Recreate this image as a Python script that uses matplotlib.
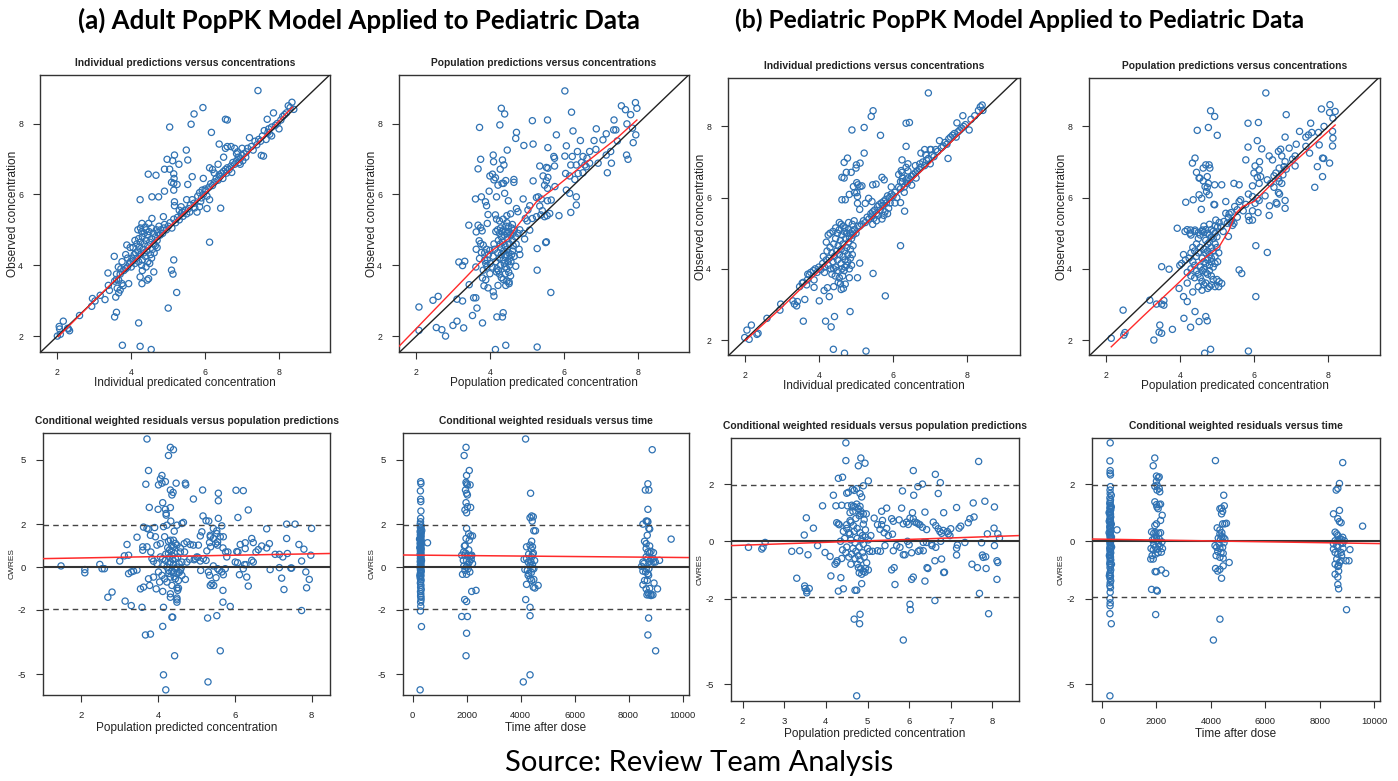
import numpy as np
import matplotlib
matplotlib.use('Agg')
import matplotlib.pyplot as plt

# ---------------- data ----------------
conc_ticks = [2, 4, 6, 8]
cwres_ticks = [-5, -2, 0, 2, 5]
time_ticks = [0, 2000, 4000, 6000, 8000, 10000]
cwres_ref = [-1.96, 1.96]

# (a) adult model: individual predictions vs observed
a_ipred_obs = [
    (7.43,8.93),(5.94,8.45),(5.70,8.27),(5.62,7.98),(5.04,7.90),(6.17,7.75),(6.55,8.12),(6.60,8.10),(6.38,7.42),
    (5.49,7.25),(5.17,7.11),(4.97,6.99),(5.12,6.95),(5.53,6.97),(5.29,6.85),(4.90,6.71),(5.04,6.71),(4.46,6.57),
    (4.67,6.54),(5.15,6.58),(5.16,6.45),(5.65,6.50),(5.15,6.31),(5.09,6.34),(5.24,6.28),(5.53,6.28),(5.15,6.12),
    (4.90,6.09),(4.56,5.93),(4.74,5.93),(4.24,5.85),(5.17,5.79),(5.17,5.68),(6.42,5.61),(6.12,4.65),(5.15,4.15),
    (5.09,3.86),(5.13,3.75),(5.23,3.23),(5.00,2.79),(4.20,2.37),(3.76,1.74),(4.24,1.71),(4.54,1.62),(3.55,2.54),
    (3.60,2.67),(3.54,4.25),(3.37,3.78),(3.41,3.29),(3.66,3.22),(3.58,3.10),(3.29,3.03),
    (2.00,2.00),(2.05,2.27),(2.16,2.42),(2.08,2.05),(2.06,2.20),(2.30,2.20),(2.33,2.15),(2.28,2.22),(2.60,2.58),
    (2.95,3.06),(3.02,2.99),(2.93,2.84),(3.16,3.15),(3.38,3.43),(3.66,3.58),(3.75,3.48),(3.93,3.48),(3.88,4.57),
    (3.97,4.50),(4.29,5.18),(4.38,5.08),(4.47,5.18),(4.56,5.32),(4.87,5.37),(4.24,3.67),(4.29,3.48),(4.43,3.58),
    (4.47,3.62),(4.61,3.81),
    (3.55,3.55),(3.60,3.60),(3.62,3.35),(3.70,3.75),(3.72,3.90),(3.80,3.85),(3.78,3.42),(3.85,3.90),(3.90,3.95),
    (3.95,4.05),(3.98,4.10),(4.00,3.95),(4.02,4.20),(4.05,4.12),(4.08,4.30),(4.10,4.05),(4.12,4.35),(4.15,4.20),
    (4.18,4.40),(4.20,4.10),(4.22,4.52),(4.25,4.30),(4.25,4.65),(4.28,4.00),(4.30,4.80),(4.32,4.45),(4.35,4.60),
    (4.35,4.90),(4.38,4.25),(4.40,4.70),(4.40,5.00),(4.42,4.40),(4.45,4.55),(4.45,4.85),(4.48,4.95),(4.50,4.65),
    (4.52,4.30),(4.55,4.75),(4.55,5.05),(4.60,4.90),(4.62,4.60),(4.65,4.80),(4.68,5.00),(4.70,4.70),(4.72,4.92),
    (4.75,5.10),(4.78,4.85),(4.80,5.00),(4.85,4.90),(4.88,5.05),(4.90,5.15),(4.95,5.00),(5.00,5.10),(5.05,5.20),
    (5.10,5.05),(5.15,5.30),(5.20,5.20),(5.25,5.35),(5.30,5.28),(5.35,5.45),(5.38,5.50),(5.40,5.38),(5.45,5.55),
    (5.50,5.45),(5.55,5.60),(5.58,5.50),(5.60,5.70),(4.30,4.15),(4.35,4.35),(4.15,4.60),(4.05,4.50),(4.10,4.70),
    (4.20,4.75),(4.28,4.95),(4.18,5.00),(4.25,5.05),(4.30,3.85),(4.40,3.95),(4.45,4.10),(4.50,4.05),(4.55,4.20),
    (4.58,4.45),(4.62,4.35),(4.65,4.55),(4.70,4.50),(3.60,3.75),(3.65,3.95),(3.85,4.30),(3.90,4.20),(3.75,4.10),
    (3.70,3.30),(5.50,5.85),(5.30,5.55),(5.35,5.65),
    (5.65,5.85),(5.70,5.75),(5.72,5.62),(5.78,5.50),(5.80,5.95),(5.85,6.05),(5.88,5.80),(5.90,5.90),(5.92,6.12),
    (5.95,6.00),(6.00,6.15),(6.02,6.10),(6.05,5.95),(6.10,6.20),(6.12,5.85),(6.15,6.30),(6.20,6.25),(6.25,6.35),
    (6.30,6.45),(6.35,6.40),(6.38,6.55),(6.40,6.50),(6.45,6.60),(6.48,6.45),(6.50,6.65),(6.55,6.70),(6.58,6.60),
    (6.60,6.75),(6.65,6.70),(6.70,6.80),(6.72,6.62),(6.75,6.90),(6.80,6.85),(6.85,6.95),(6.88,7.20),(6.90,7.05),
    (6.92,6.90),(6.95,7.00),(7.00,7.10),(7.02,6.95),(7.05,7.15),(7.10,7.05),(7.12,7.20),(7.15,7.30),(7.20,7.60),
    (7.25,7.35),(7.30,7.25),(7.35,7.50),(7.40,7.40),(7.45,7.55),(7.50,7.50),(7.52,7.10),(7.55,7.65),(7.58,7.08),
    (7.60,7.80),(7.65,7.55),(7.70,7.75),(7.72,7.85),(7.75,7.70),(7.80,7.90),(7.85,8.30),(7.90,7.95),(7.95,8.00),
    (8.00,7.85),(8.05,8.10),(8.10,8.20),(8.15,8.25),(8.20,8.30),(8.25,8.50),(8.30,8.45),(8.35,8.60),(8.40,8.40),
    (6.60,7.35),(6.50,7.05),(6.35,6.85),(6.55,7.30),(6.80,7.30),(6.70,7.35),(6.85,7.15),(7.00,7.30),(6.95,6.85),
    (5.95,6.45),(6.12,6.75),(6.20,6.70),(6.25,6.60),(5.85,5.65),(6.05,5.60),(7.68,8.12),(7.80,7.65),
]
a_ipred_smooth_x = [2.03, 3.0, 4.0, 5.0, 6.0, 7.0, 8.36]
a_ipred_smooth_y = [1.99, 3.0, 4.03, 5.06, 6.03, 6.99, 8.46]

# (a) adult model: population predictions vs observed
a_pred_obs = [
    (6.02,8.92),(4.30,8.43),(4.39,8.27),(6.20,8.32),(7.55,8.50),(7.66,8.39),(7.93,8.59),(7.97,8.43),(7.80,8.25),
    (5.14,8.08),(5.55,8.10),(4.26,7.96),(3.71,7.89),(4.71,7.75),(4.69,7.58),(6.24,7.79),(6.87,7.85),(7.35,8.10),
    (7.34,7.82),(7.40,7.82),(7.70,7.99),(7.85,7.87),(5.79,7.68),(7.14,7.71),(7.94,7.68),(6.44,7.52),(6.81,7.52),
    (7.05,7.54),(7.44,7.51),(7.87,7.46),(4.91,7.38),(5.16,7.42),(5.56,7.32),(6.06,7.37),(6.36,7.21),(6.69,7.21),
    (6.86,7.27),(4.46,7.25),(4.08,7.11),(7.14,7.11),(7.26,7.21),(7.69,7.11),(7.73,6.99),(3.74,6.99),(4.33,6.97),
    (4.09,6.92),(5.72,7.07),(5.74,7.02),(6.02,7.08),(6.22,7.07),(6.51,7.07),(6.62,7.02),(7.28,6.88),(6.92,6.88),
    (3.67,6.72),(4.37,6.83),(4.27,6.71),(5.34,6.80),(5.52,6.76),(5.56,6.74),(5.74,6.80),(6.18,6.83),(6.33,6.83),
    (6.47,6.90),(6.56,6.83),(6.69,6.88),(7.17,6.61),(3.99,6.52),(4.06,6.57),(4.10,6.41),(4.14,6.47),(4.21,6.26),
    (4.32,6.31),(4.36,6.31),(4.42,6.39),(4.64,6.42),(4.64,6.34),(5.16,6.38),(5.43,6.52),(5.52,6.38),(5.56,6.48),
    (6.04,6.59),(6.15,6.52),(6.38,6.59),(6.51,6.61),(6.60,6.78),(6.29,6.42),(5.47,6.26),(5.55,6.17),(5.75,6.22),
    (6.06,6.12),(6.15,6.03),(6.33,5.93),(6.33,5.70),(6.18,5.49),(5.86,5.40),(3.97,6.09),(4.17,5.93),(4.39,6.03),
    (3.60,5.87),(3.76,5.93),(3.87,5.79),(3.90,5.68),(4.49,5.82),(4.89,5.87),(5.25,5.91),(5.30,5.93),(5.38,5.87),
    (5.55,5.82),(5.65,5.84),(4.71,5.60),(4.75,5.51),(5.07,5.68),(5.02,5.56),(5.34,5.67),(5.41,5.54),(5.37,5.42),
    (5.54,5.40),(5.47,5.37),(5.61,5.46),(3.94,5.43),(4.14,5.42),(4.17,5.30),(5.25,5.37),(4.95,5.32),(5.00,5.25),
    (5.14,5.32),(3.42,5.13),(3.67,5.13),(3.74,5.06),(3.92,5.18),(3.78,4.97),(4.93,4.74),(5.07,4.99),(4.89,4.90),
    (5.52,4.66),(5.27,4.47),(3.62,4.94),(3.70,4.69),(3.74,4.61),(3.81,4.57),(3.62,4.45),(3.99,4.42),(3.76,4.36),
    (3.71,4.19),(3.85,4.14),(3.15,4.09),(3.25,3.99),(3.31,4.11),(3.61,3.95),(3.81,3.86),(3.91,3.95),(3.99,3.76),
    (4.17,3.81),(3.79,3.64),(3.88,3.59),(3.83,3.42),(3.94,3.36),(4.08,3.25),(4.10,3.13),(4.21,3.43),(3.43,3.45),
    (3.55,3.08),(3.61,3.08),(3.10,3.04),(3.25,2.99),(2.45,3.01),(2.59,3.12),(3.64,2.79),(3.52,2.58),(4.18,2.54),
    (4.33,2.54),(4.35,2.66),(3.79,2.37),(3.10,2.42),(2.99,2.30),(3.28,2.23),(2.54,2.24),(2.69,2.18),(2.79,2.00),
    (2.07,2.82),(2.07,2.16),(4.14,1.62),(4.42,1.74),(5.27,1.69),(5.64,3.23),(5.27,3.86),(5.50,4.64),(4.80,4.30),
    (4.69,3.97),(4.51,3.53),(4.51,3.48),(4.42,3.43),
    (4.15,4.95),(4.20,5.00),(4.25,4.90),(4.28,5.05),(4.30,4.80),(4.32,4.95),(4.35,5.00),(4.38,4.85),(4.40,4.95),
    (4.42,5.10),(4.45,4.90),(4.48,4.75),(4.50,4.95),(4.52,4.60),(4.55,4.85),(4.58,5.05),(4.60,4.70),(4.22,4.70),
    (4.27,4.60),(4.30,4.50),(4.33,4.65),(4.36,4.40),(4.40,4.55),(4.43,4.30),(4.46,4.45),(4.50,4.35),(4.53,4.20),
    (4.56,4.10),(4.20,4.35),(4.25,4.20),(4.28,4.00),(4.30,4.30),(4.35,4.15),(4.38,4.05),(4.40,3.95),(4.42,4.25),
    (4.45,3.90),(4.48,4.10),(4.50,3.80),(4.52,4.00),(4.55,3.70),(4.15,4.10),(4.18,3.90),(4.22,3.85),(4.25,3.75),
    (4.30,3.65),(4.35,3.60),(4.40,3.75),(4.45,3.55),(4.12,4.45),(4.10,4.60),(4.08,4.25),(4.05,3.95),(4.00,4.05),
    (3.95,4.30),(3.90,4.45),(3.92,4.15),(3.88,4.05),(3.85,4.35),(4.60,4.40),(4.62,4.55),(4.65,4.25),(4.68,4.80),
    (4.70,4.60),(4.75,4.90),(4.78,4.45),(4.80,5.00),(4.62,4.90),(4.58,4.30),(4.50,5.10),(4.45,5.20),(4.35,5.30),
    (4.25,5.25),(4.60,5.15),(4.55,5.45),(4.45,5.40),(4.65,5.00),
]
a_pred_smooth_x = [1.53, 3.35, 4.0, 4.5, 4.71, 5.25, 5.79, 6.51, 7.42, 7.97]
a_pred_smooth_y = [1.71, 3.67, 4.38, 4.75, 5.08, 5.79, 6.22, 6.83, 7.58, 8.10]

# (b) pediatric model: individual predictions vs observed
b_ipred_obs = [
    (6.95,8.94),(5.46,8.44),(5.41,8.28),(4.89,7.90),(5.22,7.97),(5.66,7.75),(6.35,8.09),(6.44,8.11),(6.35,7.44),
    (5.22,7.25),(4.77,7.11),(4.68,6.99),(5.11,6.97),(5.01,6.92),(5.00,6.83),(6.24,7.06),(6.22,6.76),(6.24,6.71),
    (4.62,6.57),(4.68,6.55),(4.74,6.71),(4.87,6.71),(5.70,6.57),(5.76,6.50),(5.02,6.42),(5.05,6.36),(4.93,6.31),
    (5.11,6.31),(5.16,6.33),(5.45,6.36),(5.54,6.38),(4.96,6.14),(5.02,6.14),(4.82,6.09),(5.04,6.03),(4.62,5.94),
    (4.71,5.94),(5.04,5.84),(5.25,5.84),(5.10,5.67),(5.34,5.98),(5.43,5.89),(6.20,5.86),(6.31,5.62),(6.20,4.65),
    (5.10,4.16),(5.04,3.75),(5.46,3.87),(5.79,3.24),(4.84,2.80),(4.42,2.66),(4.18,2.53),(4.33,2.37),(3.58,2.53),
    (4.39,1.74),(4.69,1.63),(5.27,1.69),(3.62,3.14),(4.01,3.10),(3.34,3.01),(3.40,2.96),(3.42,3.08),(2.95,2.84),
    (2.97,3.01),(2.60,2.61),(2.06,2.28),(2.18,2.42),(2.36,2.19),(2.33,2.16),(2.12,2.02),(2.00,2.07),(3.87,3.48),
    (4.14,3.39),(4.23,3.47),(4.28,3.22),(3.87,3.69),(3.74,3.83),(3.69,3.69),(3.67,3.55),(3.58,3.62),(4.40,3.50),
    (4.52,3.62),(4.58,3.58),(4.60,3.42),(4.66,3.45),(4.71,3.57),(4.82,3.75),(4.44,3.80),(4.64,3.80),
    (3.85,3.95),(3.90,4.00),(3.95,3.90),(4.00,4.05),(4.05,3.98),(4.10,4.15),(4.12,4.35),(4.15,4.05),(4.20,4.25),
    (4.22,4.50),(4.25,4.10),(4.28,4.30),(4.30,4.60),(4.32,4.00),(4.35,4.45),(4.38,4.20),(4.40,4.70),(4.42,4.35),
    (4.45,4.05),(4.45,4.85),(4.48,4.50),(4.50,4.25),(4.50,5.00),(4.52,4.65),(4.55,4.40),(4.55,5.10),(4.58,4.80),
    (4.60,4.15),(4.60,4.55),(4.62,4.95),(4.65,4.35),(4.65,4.70),(4.68,5.05),(4.70,4.25),(4.70,4.50),(4.72,4.85),
    (4.75,4.60),(4.75,5.00),(4.78,4.40),(4.80,4.75),(4.80,5.10),(4.82,4.90),(4.85,4.55),(4.85,5.00),(4.88,4.85),
    (4.90,5.05),(4.92,4.95),(4.95,5.10),(5.00,5.00),(5.05,5.20),(4.30,5.00),(4.38,5.05),(4.25,4.95),(4.20,4.75),
    (4.45,5.15),(4.55,5.30),(4.60,5.25),(4.65,5.20),(4.70,5.15),(4.80,5.30),(4.90,5.25),(4.95,5.35),(4.15,3.90),
    (4.35,3.85),(4.50,3.95),(4.55,3.75),(4.62,4.00),(4.70,4.05),(4.75,4.10),(4.78,4.20),(4.85,4.30),(4.82,4.00),
    (4.90,4.40),(4.92,4.65),(4.68,3.95),(4.88,4.10),(4.40,4.00),(3.70,3.85),(3.78,3.90),(3.55,3.60),(3.48,3.50),
    (3.30,3.10),
    (5.10,5.20),(5.15,5.25),(5.20,5.35),(5.25,5.30),(5.30,5.45),(5.35,5.40),(5.40,5.55),(5.42,5.48),(5.45,5.60),
    (5.48,5.42),(5.50,5.65),(5.55,5.55),(5.58,5.75),(5.60,5.50),(5.62,5.80),(5.65,5.65),(5.68,5.85),(5.70,5.40),
    (5.72,5.78),(5.75,5.90),(5.78,5.60),(5.80,5.95),(5.82,5.85),(5.85,6.05),(5.88,5.70),(5.90,6.00),(5.92,5.85),
    (5.95,6.10),(6.00,6.05),(6.05,6.15),(6.10,6.00),(6.15,6.30),(6.20,6.25),(6.25,6.45),(6.30,6.30),(6.35,6.50),
    (6.38,6.40),(6.40,6.55),(6.45,6.50),(6.50,6.60),(6.55,6.65),(6.60,6.70),(6.62,6.55),(6.65,6.75),(6.70,6.80),
    (6.72,6.95),(6.75,6.85),(6.80,7.00),(6.85,6.90),(6.88,7.20),(6.90,7.05),(6.95,7.10),(7.00,6.95),(7.02,7.35),
    (7.05,7.20),(7.10,7.15),(7.15,7.35),(7.20,7.30),(7.25,7.60),(7.30,7.40),(7.35,7.45),(7.40,7.55),(7.45,7.50),
    (7.48,7.10),(7.50,7.65),(7.55,7.70),(7.60,7.75),(7.65,7.80),(7.70,7.70),(7.72,8.10),(7.75,7.85),(7.80,7.90),
    (7.85,7.95),(7.88,8.30),(7.90,8.00),(7.95,8.05),(8.05,7.90),(8.10,8.20),(8.20,8.30),(8.30,8.45),(8.35,8.55),
    (8.40,8.60),(8.42,8.45),(6.20,6.45),(6.35,6.85),(6.40,6.95),(6.60,6.90),(6.75,7.25),(6.85,7.35),(7.00,7.35),
    (6.50,6.35),(6.30,6.15),(6.05,5.85),(5.85,5.55),(5.75,5.50),(5.55,5.35),(5.45,5.25),(5.95,6.30),(6.15,6.65),
    (6.25,6.55),(6.40,6.75),
]
b_ipred_smooth_x = [2.02, 3.0, 3.62, 4.0, 4.5, 5.0, 6.0, 7.0, 8.42]
b_ipred_smooth_y = [1.99, 2.92, 3.55, 3.93, 4.45, 5.0, 6.0, 6.98, 8.45]

# (b) pediatric model: population predictions vs observed
b_pred_obs = [
    (6.32,8.94),(4.83,8.44),(4.94,8.28),(4.47,7.89),(4.77,7.97),(5.01,7.75),(5.84,8.09),(6.12,8.11),(6.87,8.33),
    (7.53,8.09),(7.82,8.49),(8.05,8.61),(8.04,8.39),(8.19,8.42),(8.13,8.23),(5.84,7.42),(6.21,7.37),(6.09,7.60),
    (6.84,7.70),(6.72,7.36),(6.66,7.30),(6.95,7.39),(7.23,7.86),(7.40,7.70),(7.47,7.76),(7.56,7.83),(7.50,7.25),
    (7.74,7.83),(7.76,7.48),(7.89,8.00),(8.12,7.86),(8.13,7.67),(8.12,7.45),(8.04,6.97),(7.85,7.11),(7.88,7.10),
    (7.71,6.87),(7.85,6.59),(7.64,6.29),(7.14,7.50),(7.40,7.44),(7.11,7.17),(7.11,6.89),(7.04,7.08),(6.84,7.01),
    (6.81,6.87),(6.87,6.80),(6.78,6.64),(6.68,6.83),(6.59,6.69),(6.66,6.55),(6.50,7.06),(6.54,6.61),(6.41,7.17),
    (6.75,7.17),(6.15,7.01),(6.14,6.78),(6.03,6.89),(5.78,7.06),(6.36,6.50),(6.18,6.59),(6.00,6.69),(6.09,6.57),
    (6.14,6.40),(6.45,6.40),(6.54,6.29),(6.68,6.45),(6.75,6.40),(6.66,6.14),(6.69,6.10),(6.84,5.92),(6.60,5.86),
    (6.62,5.82),(6.84,5.70),(6.42,5.77),(6.41,5.50),(6.30,6.05),(5.96,6.33),(5.85,6.10),(5.96,6.03),(6.09,5.98),
    (6.14,5.92),(6.03,5.84),(5.78,5.81),(5.64,5.94),(5.96,5.63),(6.11,5.58),(5.96,5.37),(5.85,5.47),(5.87,5.36),
    (5.71,5.63),(5.48,5.75),(5.55,5.66),(5.60,5.89),(5.46,6.40),(5.60,6.36),(5.24,5.89),(5.13,6.36),(4.94,5.80),
    (4.94,6.36),(5.55,5.45),(5.46,5.28),(5.40,5.35),(5.24,5.56),(5.33,5.54),(5.38,5.58),(5.31,5.45),(5.19,5.33),
    (5.28,5.28),(5.37,5.31),(5.42,5.22),(4.97,5.37),(5.06,5.30),(5.02,5.18),(5.11,5.18),(5.17,5.05),(5.31,4.91),
    (6.05,4.65),(6.36,4.46),(5.60,3.97),(5.67,3.87),(6.05,3.22),(5.13,3.59),(5.06,3.64),(4.63,6.83),(4.70,6.92),
    (4.79,6.92),(4.81,6.83),(4.41,7.11),(4.34,6.97),(4.45,6.71),(4.52,6.55),(4.54,6.55),(4.74,6.59),(4.63,6.47),
    (4.77,6.40),(4.68,6.31),(4.74,6.29),(4.72,6.17),(4.52,6.08),(4.59,5.98),(4.79,6.08),(4.36,5.94),(4.16,5.87),
    (4.58,5.67),(4.92,5.81),(3.93,5.14),(4.14,5.05),(4.29,5.09),(4.27,5.00),(4.41,5.09),(4.50,5.02),(4.61,5.09),
    (4.65,5.02),(3.51,4.06),(3.71,3.99),(3.98,3.45),(4.20,3.08),(4.10,3.22),(3.19,3.12),(3.37,3.01),(3.51,3.01),
    (3.57,2.98),(3.57,3.11),(2.47,2.84),(4.11,2.61),(4.41,2.80),(4.70,2.66),(4.74,2.54),(4.29,2.36),(4.52,2.52),
    (3.46,2.42),(3.51,2.19),(3.44,2.22),(3.80,2.30),(3.30,2.00),(2.15,2.05),(2.49,2.14),(2.52,2.21),(4.67,1.63),
    (4.83,1.74),(5.85,1.69),
    (4.75,5.00),(4.80,4.95),(4.85,4.90),(4.90,5.05),(4.95,5.00),(4.70,4.80),(4.75,4.70),(4.80,4.75),(4.85,4.60),
    (4.90,4.85),(4.95,4.70),(5.00,4.90),(4.65,4.55),(4.70,4.45),(4.75,4.50),(4.80,4.40),(4.85,4.30),(4.90,4.50),
    (4.95,4.35),(4.60,4.30),(4.65,4.20),(4.70,4.15),(4.75,4.25),(4.80,4.10),(4.85,4.20),(4.90,4.05),(4.95,4.15),
    (4.55,4.05),(4.60,3.95),(4.65,4.00),(4.70,3.90),(4.75,3.85),(4.80,3.95),(4.85,3.80),(4.90,3.70),(4.50,3.85),
    (4.55,3.75),(4.60,3.65),(4.65,3.55),(4.70,3.60),(4.75,3.45),(4.80,3.50),(4.85,3.55),(4.45,3.95),(4.40,4.10),
    (4.35,4.20),(4.30,4.00),(4.45,4.35),(4.50,4.45),(4.40,4.50),(4.35,4.60),(4.30,4.45),(4.25,4.30),(4.20,3.90),
    (4.45,4.70),(4.55,4.60),(4.50,4.85),(4.60,5.05),(4.55,4.95),(4.40,5.05),(4.30,4.95),(4.20,5.10),(4.70,5.10),
    (4.80,5.25),(4.65,5.20),(4.85,5.10),(4.95,5.20),(5.00,4.60),(5.05,4.45),(5.02,4.20),(5.00,3.70),(5.05,3.50),
    (4.95,3.50),(4.60,3.40),(4.50,3.50),(4.40,3.75),(4.30,3.80),(4.35,3.35),(4.20,3.60),(4.15,4.25),(4.10,4.40),
    (4.00,4.10),(4.05,4.15),
]
b_pred_smooth_x = [2.15, 3.0, 4.0, 4.5, 5.06, 5.33, 5.51, 5.69, 6.0, 7.0, 8.0, 8.19]
b_pred_smooth_y = [1.81, 2.66, 3.64, 4.16, 4.62, 5.09, 5.56, 5.75, 5.89, 6.92, 7.86, 8.04]

# (a) CWRES vs population predictions
a_cwres_pred = [
    (3.71,5.97),(4.32,5.58),(4.40,5.47),(4.27,5.20),(3.75,4.50),(4.10,4.27),(4.06,4.11),(4.19,3.98),(3.68,3.86),
    (4.01,3.83),(4.10,3.91),(4.47,3.91),(4.71,3.91),(4.72,3.83),(4.32,3.59),(4.39,3.48),(4.36,3.36),(5.16,3.59),
    (5.57,3.44),(5.57,3.09),(6.03,3.58),(6.22,3.56),(4.92,3.17),(4.12,3.00),(3.77,2.78),(4.00,2.69),(4.32,2.77),
    (4.19,2.69),(4.21,2.50),(4.21,2.42),(6.35,2.66),(5.17,2.38),(5.25,2.16),(5.32,2.14),(5.57,2.27),(6.08,2.31),
    (4.33,2.14),(4.62,2.03),(4.66,2.08),(5.66,1.92),(7.35,2.00),(7.57,2.00),(8.00,1.80),(6.83,1.78),(3.62,1.86),
    (3.71,1.80),(3.75,1.77),(3.91,1.84),(3.45,1.39),(3.19,1.05),(3.23,0.55),(3.00,0.28),(3.12,0.52),(2.48,0.12),
    (2.54,-0.08),(2.60,-0.08),(2.09,-0.12),(2.09,-0.27),(1.47,0.05),(2.69,-1.41),(2.80,-1.17),(3.14,-1.59),
    (3.30,-1.80),(3.58,-1.88),(3.23,-0.31),(3.30,-0.23),(3.36,-0.19),(3.45,-0.14),(3.54,-1.02),(3.62,-0.94),
    (3.75,-0.55),(3.88,-0.47),(3.78,-0.86),(3.95,-1.02),(4.12,-1.14),(4.04,-0.70),(4.14,-1.88),(4.12,-2.77),
    (3.67,-3.17),(3.80,-3.13),(4.36,-2.34),(4.38,-2.34),(4.43,-4.14),(4.14,-5.03),(4.20,-5.73),(5.30,-5.36),
    (5.62,-3.91),(5.29,-2.38),(5.53,-2.27),(5.88,-1.84),(5.69,-1.64),(5.69,-1.09),(5.45,-0.86),(6.35,-0.89),
    (6.12,-0.36),(6.31,-0.47),(6.92,-0.12),(7.22,-0.52),(7.28,-1.05),(7.74,-2.03),(7.87,-0.97),(7.94,-0.58),
    (7.85,-0.23),(7.46,-0.05),(7.48,-0.05),(7.16,-0.03),(7.74,0.28),(7.98,0.55),(7.67,1.05),(7.80,0.83),
    (7.35,1.33),(7.25,0.47),(7.37,0.63),(7.05,0.59),(7.16,0.59),(6.83,0.89),(6.90,1.09),(6.70,0.98),(6.44,1.33),
    (6.48,1.14),(6.27,1.13),(6.27,0.86),(6.08,0.70),(6.05,0.72),(6.14,1.05),(6.55,0.70),(6.61,0.81),(6.44,0.31),
    (6.48,0.23),(6.25,0.11),(6.29,0.11),(6.22,-0.08),(6.07,0.20),(6.01,0.23),(5.79,0.47),(5.82,0.70),(5.76,0.70),
    (5.69,0.89),(5.70,1.41),(5.62,1.41),(5.55,1.17),(5.50,1.09),(5.55,1.02),(5.34,1.14),(5.37,0.94),(5.27,0.75),
    (5.36,1.41),(5.44,1.33),(5.53,1.56),(5.44,1.80),(5.53,1.69),(5.14,1.64),(5.36,1.48),(5.10,1.45),(5.05,1.02),
    (4.92,1.02),(4.84,1.05),(4.75,1.17),(4.68,1.09),(4.97,0.39),(4.94,0.34),(5.10,0.28),(5.18,0.39),(5.25,0.31),
    (5.11,-0.16),(5.31,-0.23),(5.34,-0.39),(5.44,0.05),(5.55,-0.08),(5.59,-0.16),(5.66,-0.23),(5.70,-0.36),
    (5.75,-0.08),(5.51,-0.50),(5.40,-0.78),(5.36,-0.86),(5.01,0.47),(5.04,0.45),(4.69,0.70),(4.40,0.94),
    (4.49,1.02),(4.58,0.89),(4.17,1.41),(4.32,1.25),(4.40,1.25),(4.27,1.20),(4.42,1.67),(4.49,1.95),(4.23,1.95),
    (4.14,1.88),(3.80,1.48),(3.93,1.41),(3.71,0.94),(3.81,0.70),(3.60,0.94),(3.60,0.78),(3.97,1.02),(4.06,1.09),
    (3.84,0.39),(3.88,0.27),(3.97,0.16),(4.06,0.47),(4.12,0.39),(4.19,0.31),(4.27,0.63),(4.36,0.55),(4.43,0.63),
    (4.51,0.47),(4.58,0.70),(4.62,0.23),(4.32,0.23),(4.40,0.11),(4.49,0.00),(4.45,-0.08),(4.23,0.00),(4.27,-0.16),
    (4.36,-0.20),(4.40,-0.27),(4.49,-0.31),(4.58,-0.16),(4.62,-0.39),(4.32,-0.47),(4.45,-0.55),(4.53,-0.63),
    (4.23,-0.70),(4.36,-0.86),(4.49,-0.98),(4.51,-1.09),(4.53,-0.98),(4.49,-1.45),(4.49,-1.53),(4.49,-1.64),
    (4.32,-1.41),(4.32,-1.25),(4.17,-0.55),(4.10,-0.39),(4.01,-0.23),(4.71,-0.58),(4.75,0.23),(4.82,0.36),
    (4.30,0.80),(4.35,0.75),(4.25,0.90),(4.38,0.35),(4.45,0.40),(4.30,0.45),(4.28,-0.30),(4.42,-0.45),
    (4.55,-0.25),(4.35,1.00),(4.45,1.10),(4.30,0.15),(4.55,0.15),(4.60,-0.05),(4.20,0.60),(4.15,0.10),
]
a_cwres_pred_fit_x = [1.0, 8.48]
a_cwres_pred_fit_y = [0.39, 0.63]

# (a) CWRES vs time after dose
a_cwres_time = [
    (300,3.98),(310,3.89),(290,3.55),(300,3.16),(305,3.05),(310,2.61),(300,2.27),(295,2.11),(285,2.00),(320,1.92),
    (290,1.85),(310,1.78),(300,1.72),(280,1.65),(320,1.60),(300,1.55),(290,1.50),(315,1.45),(300,1.40),(285,1.35),
    (310,1.30),(295,1.25),(320,1.20),(300,1.15),(280,1.10),(310,1.05),(295,1.00),(305,0.95),(285,0.90),(320,0.85),
    (300,0.80),(290,0.75),(310,0.70),(300,0.65),(280,0.60),(315,0.55),(295,0.50),(305,0.45),(290,0.40),(320,0.35),
    (300,0.30),(285,0.25),(310,0.20),(300,0.15),(290,0.10),(315,0.05),(300,0.00),(285,-0.05),(310,-0.10),
    (295,-0.15),(320,-0.20),(300,-0.25),(290,-0.30),(310,-0.38),(300,-0.45),(285,-0.52),(315,-0.60),(300,-0.68),
    (290,-0.75),(310,-0.85),(300,-0.95),(320,-1.05),(295,-1.15),(305,-1.25),(300,-1.35),(310,-1.41),(315,-1.52),
    (300,-1.64),(305,-1.83),(290,-2.05),(330,-2.78),(280,-5.73),(554,1.13),(330,1.10),(270,0.90),(330,0.30),
    (270,-0.40),(340,1.70),(260,1.30),
    (1980,5.58),(1910,5.20),(2100,4.50),(2000,4.27),(1980,3.95),(2000,3.88),(2030,3.83),(2130,3.83),(1960,3.59),
    (2000,3.44),(2030,3.36),(1980,3.00),(2030,2.81),(2150,2.78),(1940,2.66),(2000,2.53),(2000,1.80),(1980,1.33),
    (2150,1.45),(2220,1.45),(1920,0.98),(2100,1.25),(1820,0.55),(1940,0.55),(2060,0.55),(2130,0.52),(2190,0.55),
    (1880,0.31),(2000,0.31),(2100,0.23),(2220,0.16),(1850,-0.34),(2000,-0.34),(2120,-0.23),(1940,-0.16),
    (2060,-0.08),(1900,0.05),(2050,0.12),(2180,0.50),(1960,0.65),(2080,0.80),(1990,0.00),(1930,-1.52),
    (2000,-1.61),(2190,-1.14),(2350,-1.09),(1820,-2.31),(2030,-2.31),(2000,-3.09),(1980,-4.14),(2080,1.55),
    (1950,1.00),(2170,0.35),(1890,0.70),
    (4185,5.97),(4370,3.44),(4470,2.34),(4350,2.30),(4410,2.38),(4430,2.14),(4490,1.69),(4550,1.69),(4410,1.20),
    (4350,1.02),(4220,0.94),(4440,0.94),(4440,0.59),(4130,0.36),(4220,0.39),(4410,0.47),(4280,0.23),(4350,0.08),
    (4440,0.11),(4160,-0.12),(4250,-0.16),(4440,-0.08),(4490,-0.08),(4280,-0.39),(4350,-0.55),(4410,-0.62),
    (4490,-0.58),(4220,-0.81),(4470,-0.94),(4530,-0.98),(4650,-0.86),(4190,-1.52),(4350,-1.88),(4350,-2.27),
    (4350,-5.03),(4100,-5.36),(4300,0.60),(4380,0.25),(4520,0.30),(4300,-0.30),(4400,-0.25),(4470,0.65),
    (4390,0.85),
    (8874,5.47),(8714,3.88),(8620,3.59),(8750,3.59),(8714,2.69),(8650,2.14),(8690,2.14),(8714,2.11),(8530,2.00),
    (8750,1.80),(8780,1.77),(8590,1.20),(8650,1.09),(8780,0.98),(8690,1.48),(8650,0.86),(8714,0.70),(8780,0.66),
    (8830,0.73),(8920,0.67),(8650,0.47),(8714,0.39),(8830,0.36),(8900,0.39),(8530,0.23),(8560,0.16),(8780,0.27),
    (8830,0.16),(8920,0.23),(8990,0.23),(8480,0.03),(8650,-0.08),(8750,-0.08),(8530,-0.19),(8630,-0.23),
    (8714,-0.31),(8740,-0.39),(8690,-0.63),(8590,-0.63),(8940,-0.75),(8530,-0.83),(8650,-1.02),(8780,-1.00),
    (8714,-1.20),(8830,-1.28),(8750,-1.30),(9070,-1.02),(8830,-1.33),(8680,-1.30),(8900,-1.30),(8740,-2.38),
    (8714,-3.17),(9000,-3.91),(9575,1.30),(9145,0.31),
]
a_cwres_time_fit_x = [-354, 10236]
a_cwres_time_fit_y = [0.56, 0.44]

# (b) CWRES vs population predictions
b_cwres_pred = [
    (4.48,3.44),(4.48,2.82),(4.84,2.91),(4.78,2.64),(4.94,2.73),(7.67,2.79),(6.10,2.47),(6.63,2.34),(4.30,2.20),
    (4.40,2.24),(5.02,2.11),(4.90,1.94),(6.75,2.05),(6.32,2.00),(6.21,1.91),(4.64,1.82),(4.68,1.78),(4.74,1.84),
    (4.54,1.71),(4.50,1.68),(4.18,1.61),(4.82,1.67),(4.86,1.55),(5.84,1.76),(6.11,1.61),(6.70,1.67),(3.92,1.24),
    (4.24,1.24),(4.38,1.26),(4.52,1.24),(4.62,1.26),(4.66,1.22),(4.74,1.30),(4.82,1.22),(4.78,1.14),(5.46,1.16),
    (5.34,1.05),(5.82,1.16),(6.08,1.00),(6.38,1.02),(6.83,1.00),(7.14,1.18),(7.54,1.34),(7.82,1.40),(8.05,1.20),
    (3.53,0.82),(4.26,0.65),(4.30,0.61),(4.32,0.58),(4.60,0.67),(4.50,0.58),(4.58,0.72),(4.84,0.96),(4.90,0.96),
    (4.97,0.96),(5.16,0.81),(5.36,0.73),(5.34,0.58),(5.24,0.58),(5.58,0.79),(5.62,0.70),(5.76,0.75),(5.86,0.61),
    (5.94,0.67),(5.98,0.59),(6.02,0.81),(6.10,0.79),(6.14,0.67),(6.18,0.65),(6.22,0.61),(6.26,0.58),(6.32,0.49),
    (6.42,0.41),(6.58,0.67),(6.64,0.55),(6.70,0.44),(6.74,0.34),(6.78,0.28),(6.82,0.38),(6.92,0.34),(6.94,0.26),
    (6.98,0.20),(7.00,0.44),(7.20,0.46),(7.24,0.53),(7.42,0.65),(7.46,0.79),(7.56,0.85),(8.04,0.46),(8.13,0.26),
    (8.17,0.11),(7.88,0.26),(3.70,0.46),(3.48,0.22),(2.14,-0.21),(2.46,-0.27),(2.49,-0.21),(2.54,-0.04),
    (3.18,-0.35),(3.37,-0.33),(3.57,-0.47),(3.80,-0.15),(3.98,-0.39),(4.10,-0.53),(3.30,-1.29),(3.49,-1.56),
    (3.50,-1.65),(3.54,-1.73),(3.60,-1.65),(3.54,-1.80),(4.12,-1.21),(4.30,-1.74),(4.42,-1.66),(4.36,-1.27),
    (4.22,-0.80),(4.26,-0.74),(4.27,-0.68),(4.70,-1.71),(4.74,-1.71),(4.86,-1.48),(4.82,-2.55),(4.68,-2.72),
    (4.81,-2.88),(5.86,-3.45),(4.74,-5.40),(6.02,-2.20),(6.03,-2.39),(6.62,-2.07),(7.69,-1.82),(7.91,-2.53),
    (5.58,-1.00),(5.64,-0.92),(5.66,-1.51),(6.06,-1.33),(6.10,-1.25),(6.38,-1.39),(6.43,-0.92),(6.45,-0.95),
    (6.62,-0.68),(6.78,-0.62),(6.83,-1.09),(6.85,-1.08),(7.14,-0.48),(7.14,-0.24),(7.16,-0.13),(7.34,-0.04),
    (7.51,-0.80),(7.64,-0.92),(7.76,-0.48),(7.78,-0.56),(7.84,-0.54),(7.85,-0.95),(8.05,-0.15),(8.11,-0.68),
    (8.13,-0.74),(8.11,-1.33),(7.74,-0.05),(5.86,-0.47),(5.90,-0.47),(5.62,-0.33),(5.42,-0.15),(5.31,-0.35),
    (5.24,-0.33),(5.12,-0.35),(6.22,-0.35),(6.26,-0.31),(6.34,-0.33),(6.34,-0.04),(6.42,-0.04),(6.54,-0.09),
    (6.64,-0.21),(6.76,0.00),(6.55,-0.15),(5.70,-0.15),(5.78,-0.21),(5.96,0.00),(6.00,-0.12),(6.06,-0.40),
    (5.50,0.20),(5.40,0.30),(5.30,0.42),(5.46,0.45),(5.60,0.25),
    (4.70,-0.05),(4.75,0.10),(4.80,-0.20),(4.85,0.05),(4.90,-0.10),(4.95,0.15),(5.00,-0.25),(4.72,-0.35),
    (4.78,-0.50),(4.82,-0.65),(4.88,-0.40),(4.92,-0.55),(4.98,-0.75),(4.76,-0.80),(4.84,-0.95),(4.90,-1.05),
    (4.80,-1.10),(4.70,-0.60),(4.65,-0.25),(4.60,0.05),(4.55,0.30),(4.62,-0.45),(4.68,0.35),(4.75,0.45),
    (4.82,0.30),(4.88,0.20),(4.95,0.40),(5.02,0.05),(5.05,-0.35),(5.02,-1.00),(4.94,-1.08),(4.86,-1.15),
    (4.78,-0.92),(4.60,-0.80),(4.55,-0.55),(4.50,-0.20),(4.45,0.10),(4.48,-0.40),(4.40,-0.30),(4.42,0.35),
    (4.38,-0.60),(4.35,0.00),(4.50,0.45),(4.58,0.25),(4.66,0.55),(4.72,0.80),(4.80,0.90),(4.90,0.60),
    (4.95,-0.95),(5.08,0.20),(4.58,1.00),(4.65,1.05),(4.70,1.20),(4.84,1.05),(4.92,0.75),
]
b_cwres_pred_fit_x = [1.72, 8.64]
b_cwres_pred_fit_y = [-0.15, 0.20]

# (b) CWRES vs time after dose
b_cwres_time = [
    (300,3.44),(290,2.81),(300,2.47),(295,2.38),(310,2.32),(310,1.91),(295,1.79),(300,1.67),(340,1.61),(290,1.52),
    (310,1.45),(300,1.38),(285,1.32),(315,1.25),(300,1.20),(290,1.15),(320,1.10),(300,1.05),(285,1.00),(310,0.95),
    (295,0.90),(320,0.85),(300,0.80),(285,0.75),(310,0.70),(295,0.65),(320,0.60),(300,0.55),(285,0.50),(310,0.45),
    (295,0.40),(320,0.35),(300,0.30),(285,0.25),(310,0.20),(295,0.15),(320,0.10),(300,0.05),(285,0.00),
    (310,-0.05),(295,-0.10),(320,-0.15),(300,-0.20),(285,-0.25),(310,-0.30),(295,-0.35),(320,-0.40),(300,-0.45),
    (285,-0.50),(310,-0.55),(295,-0.60),(320,-0.65),(300,-0.70),(285,-0.78),(310,-0.85),(295,-0.92),(320,-1.00),
    (300,-1.08),(285,-1.15),(310,-1.22),(295,-1.30),(320,-1.38),(300,-1.45),(290,-1.55),(310,-1.62),(300,-1.78),
    (290,-2.00),(300,-2.15),(295,-2.25),(290,-2.53),(340,-2.88),(290,-5.40),(551,0.40),(260,0.30),(340,0.60),
    (270,-0.50),(350,-0.20),(260,1.00),(340,1.20),(265,0.70),(345,-0.80),(270,-1.20),(345,0.15),
    (1937,2.91),(1880,2.64),(2000,2.28),(2060,2.22),(2100,2.25),(2000,2.10),(2020,1.96),(1940,1.92),(2020,1.79),
    (2100,1.85),(2120,1.73),(1940,1.38),(2000,1.28),(2100,1.28),(2150,1.30),(2020,1.20),(2060,1.14),(2210,0.91),
    (2150,0.73),(2000,0.61),(1940,0.55),(1820,0.33),(1900,0.28),(1980,0.30),(2080,0.28),(2150,0.30),(1850,0.05),
    (1930,0.10),(2020,0.02),(2100,0.08),(2200,-0.02),(1800,-0.25),(1880,-0.30),(1960,-0.20),(2040,-0.28),
    (2120,-0.18),(2220,-0.25),(1840,-0.50),(1960,-0.45),(2060,-0.40),(2180,-0.38),(1790,-0.62),(1880,-0.62),
    (1950,-1.06),(2000,-1.06),(2180,-1.00),(2340,-1.12),(1820,-1.68),(2000,-1.71),(2030,-1.74),(1970,-2.56),
    (2000,0.15),(2080,-0.10),(1900,-0.12),
    (4165,2.82),(4470,1.61),(4390,1.16),(4330,1.14),(4490,1.24),(4430,1.05),(4390,0.96),(4230,0.47),(4330,0.40),
    (4430,0.61),(4510,0.61),(4570,0.63),(4330,0.26),(4390,0.16),(4270,0.11),(4350,0.06),(4450,0.14),(4510,0.08),
    (4150,-0.15),(4210,-0.21),(4330,-0.25),(4430,-0.21),(4250,-0.36),(4370,-0.39),(4450,-0.42),(4190,-0.50),
    (4330,-0.56),(4450,-0.59),(4170,-0.95),(4250,-1.04),(4330,-0.98),(4450,-0.86),(4670,-0.74),(4390,-1.29),
    (4330,-2.72),(4090,-3.45),(4400,0.30),(4300,-0.10),(4480,-0.05),
    (8840,2.75),(8720,2.02),(8600,1.79),(8660,1.85),(8500,0.96),(8720,1.08),(8660,0.79),(8720,0.69),(8780,0.65),
    (8560,0.32),(8620,0.26),(8660,0.20),(8840,0.14),(8780,0.08),(8720,0.08),(8660,0.02),(8560,0.02),(8500,-0.09),
    (8620,-0.15),(8660,-0.19),(8780,-0.04),(8840,-0.07),(8900,0.02),(8500,-0.27),(8560,-0.39),(8660,-0.45),
    (8780,-0.39),(8620,-0.62),(8780,-0.68),(8720,-0.74),(8690,-0.84),(8660,-0.88),(8560,-0.80),(9105,-0.29),
    (9070,-0.68),(8960,-0.68),(8690,-1.04),(8560,-1.15),(8660,-1.25),(8660,-1.51),(8690,-1.66),(8980,-2.39),
    (9570,0.53),(8800,-0.50),(8850,-0.25),
]
b_cwres_time_fit_x = [-368, 10209]
b_cwres_time_fit_y = [0.08, -0.08]

# ---------------- figure ----------------
W, H, DPI = 1398, 781, 100
plt.rcParams['font.family'] = ['Liberation Sans', 'DejaVu Sans']
fig = plt.figure(figsize=(W / DPI, H / DPI), dpi=DPI)
fig.patch.set_facecolor('white')

PT = '#2f72b3'
RED = '#ff2a2a'
INK = '#222222'


def axes_px(l, t, r, b):
    return fig.add_axes([l / W, 1 - b / H, (r - l) / W, (b - t) / H])


def ftext(x, y, s, **kw):
    return fig.text(x / W, 1 - y / H, s, **kw)


def base_style(ax, xlim, ylim, xticks, yticks, fs):
    ax.set_xticks(xticks)
    ax.set_yticks(yticks)
    ax.set_xticklabels([str(t) for t in xticks])
    ax.set_yticklabels([str(t) for t in yticks])
    ax.set_xlim(*xlim)
    ax.set_ylim(*ylim)
    for sp in ax.spines.values():
        sp.set_color('#333333')
        sp.set_linewidth(1.0)
    ax.tick_params(axis='both', length=5, width=0.8, colors='#333333', labelcolor='#222222', labelsize=fs)
    ax.tick_params(axis='x', pad=6.2)
    ax.tick_params(axis='y', pad=7.2)
    ax.set_facecolor('white')


def scatter(ax, pts):
    arr = np.array(pts, dtype=float)
    ax.scatter(arr[:, 0], arr[:, 1], s=20, facecolors='none', edgecolors=PT, linewidths=0.9, zorder=2)


def labels(box, title, xlabel, ylabel, ylab_off, ylab_fs, xlab_off):
    l, t, r, b = box
    cx = (l + r) / 2
    ftext(cx, t - 12, title, ha='center', va='center', fontsize=7.4, fontweight='bold', color='#222222')
    ftext(cx, b + xlab_off, xlabel, ha='center', va='center', fontsize=8.5, color='#222222')
    ftext(l - ylab_off, (t + b) / 2, ylabel, ha='center', va='center', rotation=90,
          fontsize=ylab_fs, color='#222222', zorder=5)


# top row: observed vs predicted
top_panels = [
    ((40, 75, 330, 352), a_ipred_obs, a_ipred_smooth_x, a_ipred_smooth_y, (1.53, 9.38), (1.55, 9.37),
     'Individual predictions versus concentrations', 'Individual predicated concentration'),
    ((399, 75, 689, 352), a_pred_obs, a_pred_smooth_x, a_pred_smooth_y, (1.53, 9.38), (1.55, 9.37),
     'Population predictions versus concentrations', 'Population predicated concentration'),
    ((728, 78, 1020, 355), b_ipred_obs, b_ipred_smooth_x, b_ipred_smooth_y, (1.55, 9.42), (1.58, 9.36),
     'Individual predictions versus concentrations', 'Individual predicated concentration'),
    ((1089, 78, 1380, 355), b_pred_obs, b_pred_smooth_x, b_pred_smooth_y, (1.55, 9.40), (1.58, 9.36),
     'Population predictions versus concentrations', 'Population predicated concentration'),
]
for box, pts, sx, sy, xl, yl, title, xlab in top_panels:
    ax = axes_px(*box)
    base_style(ax, xl, yl, conc_ticks, conc_ticks, 6.3)
    scatter(ax, pts)
    lo = min(xl[0], yl[0]) - 1
    hi = max(xl[1], yl[1]) + 1
    ax.plot([lo, hi], [lo, hi], color=INK, lw=1.0, zorder=3)
    ax.set_xlim(*xl)
    ax.set_ylim(*yl)
    ax.plot(sx, sy, color=RED, lw=1.0, zorder=4)
    labels(box, title, xlab, 'Observed concentration', 27, 8.6, 31)

# bottom row: CWRES
bottom_panels = [
    ((43, 433, 330, 695), a_cwres_pred, a_cwres_pred_fit_x, a_cwres_pred_fit_y, (1.0, 8.48), (-5.97, 6.25),
     conc_ticks, 'Conditional weighted residuals versus population predictions', 'Population predicted concentration'),
    ((403, 433, 689, 695), a_cwres_time, a_cwres_time_fit_x, a_cwres_time_fit_y, (-354, 10236), (-5.97, 6.25),
     time_ticks, 'Conditional weighted residuals versus time', 'Time after dose'),
    ((731, 438, 1019, 701), b_cwres_pred, b_cwres_pred_fit_x, b_cwres_pred_fit_y, (1.72, 8.64), (-5.58, 3.61),
     [2, 3, 4, 5, 6, 7, 8], 'Conditional weighted residuals versus population predictions',
     'Population predicted concentration'),
    ((1092, 438, 1380, 701), b_cwres_time, b_cwres_time_fit_x, b_cwres_time_fit_y, (-368, 10209), (-5.58, 3.61),
     time_ticks, 'Conditional weighted residuals versus time', 'Time after dose'),
]
for box, pts, fx, fy, xl, yl, xt, title, xlab in bottom_panels:
    ax = axes_px(*box)
    base_style(ax, xl, yl, xt, cwres_ticks, 6.8)
    scatter(ax, pts)
    ax.axhline(0, color='#333333', lw=1.5, zorder=3)
    for v in cwres_ref:
        ax.axhline(v, color='#444444', lw=1.0, ls=(0, (4, 3)), zorder=3)
    ax.plot(fx, fy, color=RED, lw=1.1, zorder=4)
    ax.set_xlim(*xl)
    ax.set_ylim(*yl)
    labels(box, title, xlab, 'CWRES', 31, 6.0, 33)

# headline texts fitted to their measured widths
renderer = fig.canvas.get_renderer()


def fitted(x, y, s, target_w, **kw):
    t = ftext(x, y, s, ha='center', va='center', **kw)
    w = t.get_window_extent(renderer=renderer).width
    t.set_fontsize(t.get_fontsize() * target_w / w)
    return t


fitted(359, 20, '(a) Adult PopPK Model Applied to Pediatric Data', 562,
       fontsize=16, fontweight='bold', family=['Lato', 'DejaVu Sans'], color='black')
fitted(1020, 20, '(b) Pediatric PopPK Model Applied to Pediatric Data', 570,
       fontsize=16, fontweight='bold', family=['Lato', 'DejaVu Sans'], color='black')
fitted(699, 763, 'Source: Review Team Analysis', 388,
       fontsize=20, family=['Lato', 'DejaVu Sans'], color='black')

fig.savefig('out.png', dpi=DPI)
